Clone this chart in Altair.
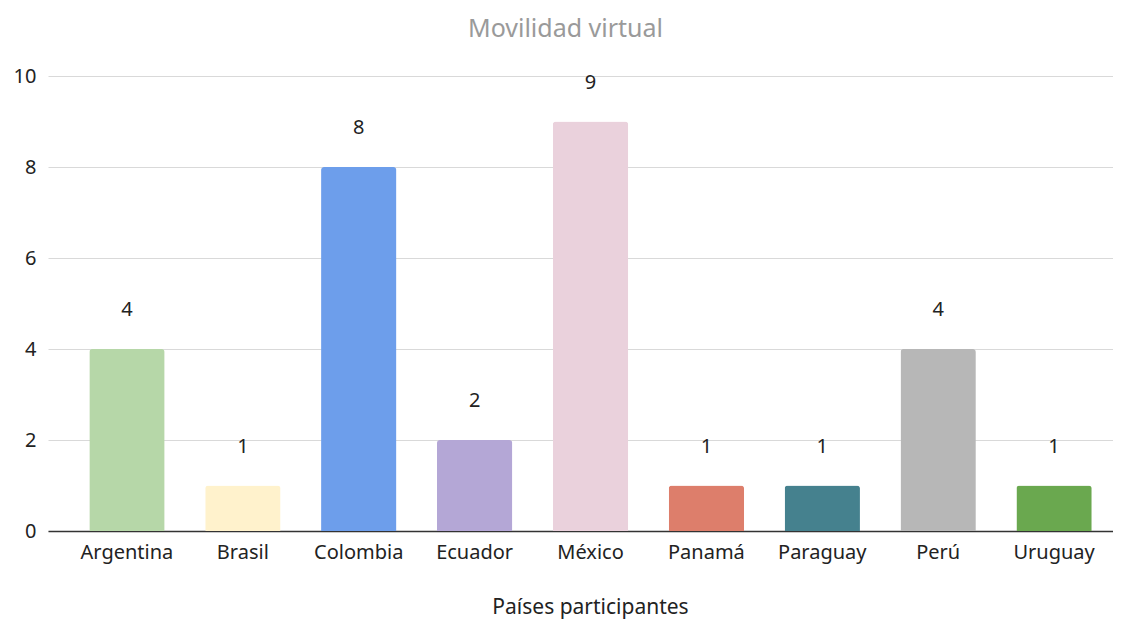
import altair as alt
import pandas as pd

paises = ["Argentina", "Brasil", "Colombia", "Ecuador", "México", "Panamá", "Paraguay", "Perú", "Uruguay"]
valores = [4, 1, 8, 2, 9, 1, 1, 4, 1]
colores = ["#b6d7a8", "#fff2cc", "#6d9eeb", "#b4a7d6", "#ead1dc", "#dd7e6b", "#45818e", "#b7b7b7", "#6aa84f"]
y_ticks = [0, 2, 4, 6, 8, 10]

df = pd.DataFrame({"País": paises, "Valor": valores})

FONT = "Noto Sans"
W = 1065

x = alt.X("País:N", sort=paises,
          scale=alt.Scale(paddingInner=0.35, paddingOuter=0.27, align=0.66),
          axis=alt.Axis(title="Países participantes", labelAngle=0, labelFontSize=20,
                        labelColor="#222222", titleFontSize=21, titleColor="#222222",
                        titleFontWeight="normal", titlePadding=34, labelPadding=11,
                        titleX=542, titleAnchor="middle", titleAlign="center",
                        ticks=False, domainColor="#333333", domainWidth=1.5,
                        labelFont=FONT, titleFont=FONT))

bars = alt.Chart(df).mark_bar(cornerRadiusTopLeft=3, cornerRadiusTopRight=3).encode(
    x=x,
    y=alt.Y("Valor:Q", scale=alt.Scale(domain=[0, 10]),
            axis=alt.Axis(title=None, values=y_ticks, labelFontSize=20, labelColor="#222222",
                          ticks=False, domain=False, gridColor="#d9d9d9", labelPadding=12,
                          labelFont=FONT)),
    color=alt.Color("País:N", sort=paises, scale=alt.Scale(domain=paises, range=colores), legend=None),
)

labels = alt.Chart(df).mark_text(fontSize=20, color="#222222", baseline="middle", dy=-39, font=FONT).encode(
    x=alt.X("País:N", sort=paises),
    y="Valor:Q",
    text="Valor:Q",
)

chart = (bars + labels).properties(
    width=W, height=455,
    title=alt.TitleParams("Movilidad virtual", fontSize=25, color="#9a9a9a", fontWeight="normal",
                          font=FONT, offset=24, anchor="middle", dx=-15),
    autosize=alt.AutoSizeParams(type="none"),
    padding={"left": 40, "top": 68, "right": 0, "bottom": 88},
).configure_view(stroke=None)

chart.save("out.html", embed_options={"renderer": "svg", "actions": False})
